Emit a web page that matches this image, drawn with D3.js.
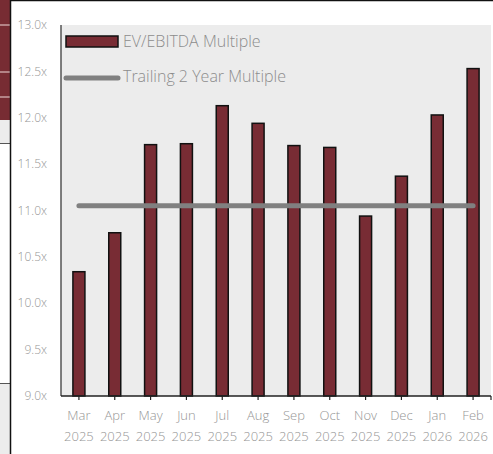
<!DOCTYPE html>
<html>
<head>
<meta charset="utf-8">
<script src="https://cdn.jsdelivr.net/npm/d3@7"></script>
<style>
  body { margin: 0; background: #fff; }
  svg { display: block; font-family: "Open Sans", sans-serif; }
</style>
</head>
<body>
<svg width="493" height="454"></svg>
<script>
(function (d3) {
    'use strict';

    const months = ['Mar', 'Apr', 'May', 'Jun', 'Jul', 'Aug', 'Sep', 'Oct', 'Nov', 'Dec', 'Jan', 'Feb'];
    const years = ['2025', '2025', '2025', '2025', '2025', '2025', '2025', '2025', '2025', '2025', '2026', '2026'];
    const multiples = [10.34, 10.76, 11.71, 11.72, 12.13, 11.94, 11.70, 11.68, 10.94, 11.37, 12.03, 12.53];
    const trailing = 11.05;
    const yTicks = [9.0, 9.5, 10.0, 10.5, 11.0, 11.5, 12.0, 12.5, 13.0];

    const svg = d3.select('svg');
    const left = 61, right = 491, top = 25, bottom = 396;
    const textColor = '#959595';

    // bits of the neighbouring slide that show at the left edge
    svg.append('rect').attr('x', 0).attr('y', 0).attr('width', 10).attr('height', 120).attr('fill', '#772c33');
    [25, 72, 97].forEach(y => {
        svg.append('line').attr('x1', 0).attr('x2', 10).attr('y1', y).attr('y2', y)
            .attr('stroke', '#f0dada').attr('stroke-width', 1);
    });
    svg.append('rect').attr('x', 0).attr('y', 120).attr('width', 10).attr('height', 23).attr('fill', '#ececec');
    svg.append('rect').attr('x', 0).attr('y', 384).attr('width', 10).attr('height', 70).attr('fill', '#ececec');
    [143.5, 383.5].forEach(y => {
        svg.append('line').attr('x1', 0).attr('x2', 10).attr('y1', y).attr('y2', y)
            .attr('stroke', '#555').attr('stroke-width', 1);
    });
    svg.append('line').attr('x1', 10.5).attr('x2', 10.5).attr('y1', 0).attr('y2', 454)
        .attr('stroke', '#111').attr('stroke-width', 1.5);
    svg.append('line').attr('x1', 10).attr('x2', 493).attr('y1', 0.5).attr('y2', 0.5)
        .attr('stroke', '#111').attr('stroke-width', 1.5);

    const x = d3.scaleBand()
                .domain(d3.range(months.length))
                .range([left, right])
                .paddingInner(0.665)
                .paddingOuter(0.3325);
    const y = d3.scaleLinear().domain([9, 13]).range([bottom, top]);

    svg.append('rect')
        .attr('x', left).attr('y', top)
        .attr('width', right - left).attr('height', bottom - top)
        .attr('fill', '#ececec');

    // y labels
    svg.append('g').selectAll('text').data(yTicks)
        .enter().append('text')
        .attr('x', 47)
        .attr('y', d => y(d))
        .attr('dy', '0.35em')
        .attr('text-anchor', 'end')
        .attr('fill', textColor)
        .attr('font-size', 12)
        .attr('font-weight', 300)
        .text(d => d.toFixed(1) + 'x');

    // bars
    svg.append('g').selectAll('rect').data(multiples)
        .enter().append('rect')
        .attr('x', (d, i) => x(i))
        .attr('y', d => y(d))
        .attr('width', x.bandwidth())
        .attr('height', d => bottom - y(d))
        .attr('fill', '#782c34')
        .attr('stroke', '#111')
        .attr('stroke-width', 1.5);

    // trailing average line
    const cx = i => x(i) + x.bandwidth() / 2;
    svg.append('line')
        .attr('x1', cx(0)).attr('x2', cx(months.length - 1))
        .attr('y1', y(trailing)).attr('y2', y(trailing))
        .attr('stroke', '#808080')
        .attr('stroke-width', 5)
        .attr('stroke-linecap', 'round');

    // axes lines
    svg.append('line').attr('x1', left).attr('x2', left).attr('y1', top).attr('y2', bottom)
        .attr('stroke', '#555').attr('stroke-width', 1.5);
    svg.append('line').attr('x1', left).attr('x2', right).attr('y1', bottom).attr('y2', bottom)
        .attr('stroke', '#222').attr('stroke-width', 1.5);
    svg.append('g').selectAll('line').data(months)
        .enter().append('line')
        .attr('x1', (d, i) => cx(i)).attr('x2', (d, i) => cx(i))
        .attr('y1', bottom).attr('y2', bottom + 4)
        .attr('stroke', '#222').attr('stroke-width', 1.2);
    svg.append('line').attr('x1', right).attr('x2', right).attr('y1', bottom).attr('y2', bottom + 4)
        .attr('stroke', '#222').attr('stroke-width', 1.2);

    // x labels
    const xl = svg.append('g').selectAll('text').data(months)
        .enter().append('text')
        .attr('text-anchor', 'middle')
        .attr('fill', textColor)
        .attr('font-size', 13)
        .attr('font-weight', 300);
    xl.append('tspan').attr('x', (d, i) => cx(i)).attr('y', 420).text(d => d);
    xl.append('tspan').attr('x', (d, i) => cx(i)).attr('y', 441).text((d, i) => years[i]);

    // legend
    svg.append('rect').attr('x', 66).attr('y', 36).attr('width', 52).attr('height', 11)
        .attr('fill', '#782c34').attr('stroke', '#111').attr('stroke-width', 1.5);
    svg.append('text').attr('x', 123).attr('y', 41).attr('dy', '0.35em')
        .attr('fill', '#8c8c8c').attr('font-size', 16).attr('font-weight', 300)
        .text('EV/EBITDA Multiple');
    svg.append('line').attr('x1', 66).attr('x2', 118).attr('y1', 78).attr('y2', 78)
        .attr('stroke', '#808080').attr('stroke-width', 5).attr('stroke-linecap', 'round');
    svg.append('text').attr('x', 123).attr('y', 76.5).attr('dy', '0.35em')
        .attr('fill', '#8c8c8c').attr('font-size', 16).attr('font-weight', 300)
        .text('Trailing 2 Year Multiple');
}(d3));
</script>
</body>
</html>
